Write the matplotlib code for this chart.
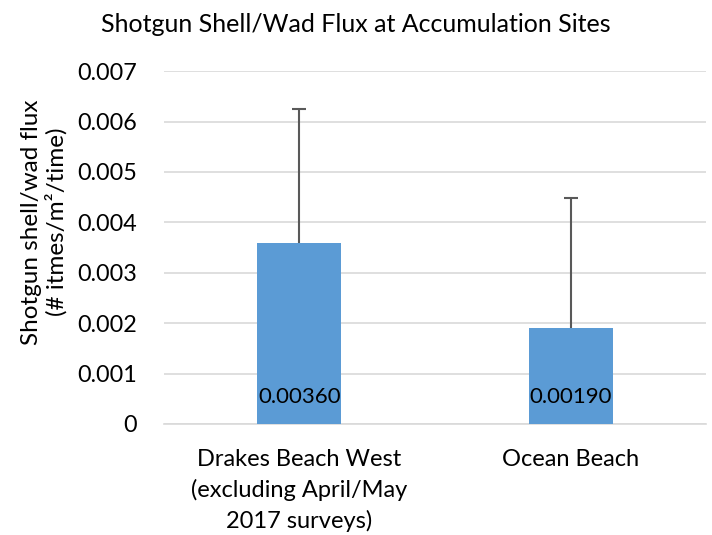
import matplotlib.pyplot as plt

plt.rcParams['font.family'] = ['Lato', 'DejaVu Sans']

sites = ['Drakes Beach West\n(excluding April/May\n2017 surveys)', 'Ocean Beach']
flux = [0.00360, 0.00190]
flux_err = [0.00265, 0.00258]
labels = ['0.00360', '0.00190']
yticks = [0, 0.001, 0.002, 0.003, 0.004, 0.005, 0.006, 0.007]
ytick_labels = ['0', '0.001', '0.002', '0.003', '0.004', '0.005', '0.006', '0.007']

fig = plt.figure(figsize=(7.12, 5.35), dpi=100)
ax = fig.add_axes([0.230, 0.2075, 0.762, 0.6595])

x = list(range(len(sites)))
ax.bar(x, flux, width=0.31, color='#5b9bd5', zorder=3)
eb = ax.errorbar(x, flux, yerr=[[0] * len(flux), flux_err], fmt='none',
                 ecolor='#595959', elinewidth=1.5, capsize=5, capthick=1.5, zorder=4)
# hide the lower cap so only the upper whisker shows
eb[1][0].set_visible(False)

for xi, lab in zip(x, labels):
    ax.text(xi, 0.00054, lab, ha='center', va='center', fontsize=16, zorder=5)

ax.set_xlim(-0.5, 1.5)
ax.set_ylim(0, 0.007)
ax.set_yticks(yticks)
ax.set_yticklabels(ytick_labels)
ax.set_xticks(x)
ax.set_xticklabels(sites, fontsize=17)
for t in ax.get_xticklabels():
    t.set_linespacing(1.5)
ax.tick_params(axis='y', labelsize=16.8, length=0, pad=19)
ax.tick_params(axis='x', length=0, pad=18)
ax.yaxis.grid(True, color='#d9d9d9', linewidth=1.2, zorder=0)
for s in ['top', 'right', 'left']:
    ax.spines[s].set_visible(False)
ax.spines['bottom'].set_color('#d9d9d9')
ax.spines['bottom'].set_linewidth(1.2)

ax.set_ylabel('Shotgun shell/wad flux\n(# itmes/m\u00b2/time)', fontsize=17.5)
ax.yaxis.set_label_coords(-0.177, 0.572)
fig.suptitle('Shotgun Shell/Wad Flux at Accumulation Sites', fontsize=18, y=0.975)

fig.savefig('out.png', dpi=100)
